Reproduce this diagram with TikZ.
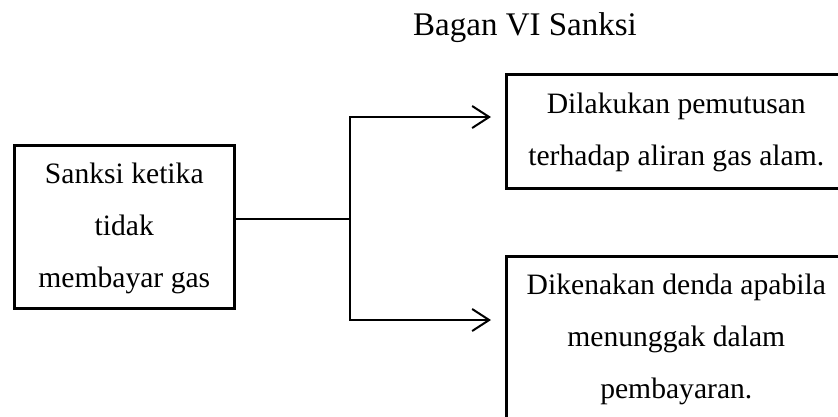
\documentclass[tikz,border=0pt]{standalone}
\usepackage{fontspec}
\setmainfont{Liberation Serif}
\usetikzlibrary{arrows.meta}
% line struts: 33pt above and 16pt below each baseline
\newcommand\lnstrut{\rule[-16pt]{0pt}{49pt}}
% deeper strut for a last line that leaves room below
\newcommand\deepstrut{\rule[-40pt]{0pt}{73pt}}
\begin{document}
\begin{tikzpicture}[x=1pt,y=-1pt,
  box/.style={draw, line width=2.6pt, rectangle, align=center,
    inner xsep=4pt, inner ysep=5pt,
    font=\fontsize{29.6pt}{52pt}\selectfont},
  link/.style={line width=2pt, line join=miter},
  arr/.style={link, -{Straight Barb[length=17pt,width=22pt]}},
  heading/.style={font=\fontsize{33pt}{40pt}\selectfont, inner sep=0pt}]
\useasboundingbox (0,0) rectangle (838,416);
\clip (0,0) rectangle (838,416);

\node[heading, anchor=base] (ttl) at (525,35) {Bagan VI Sanksi};

\node[box, anchor=north west, minimum width=220pt, minimum height=163pt] (src) at (13,144)
  {\lnstrut Sanksi ketika\\ \lnstrut tidak\\ \lnstrut membayar gas};

\node[box, anchor=north west, minimum width=340pt, minimum height=114pt] (cut) at (505,73)
  {\lnstrut Dilakukan pemutusan\\ \lnstrut terhadap aliran gas alam.};

\node[box, anchor=north west, minimum width=340pt] (fine) at (505,255)
  {\lnstrut Dikenakan denda apabila\\ \lnstrut menunggak dalam\\ \deepstrut pembayaran.};

% branching connector
\coordinate (j) at (350,219);
\coordinate (tipA) at (491,117);
\coordinate (tipB) at (491,320);
\draw[link] (j -| src.east) -- (j);
\draw[arr] (j) |- (tipA);
\draw[arr] (j) |- (tipB);
\end{tikzpicture}
\end{document}
